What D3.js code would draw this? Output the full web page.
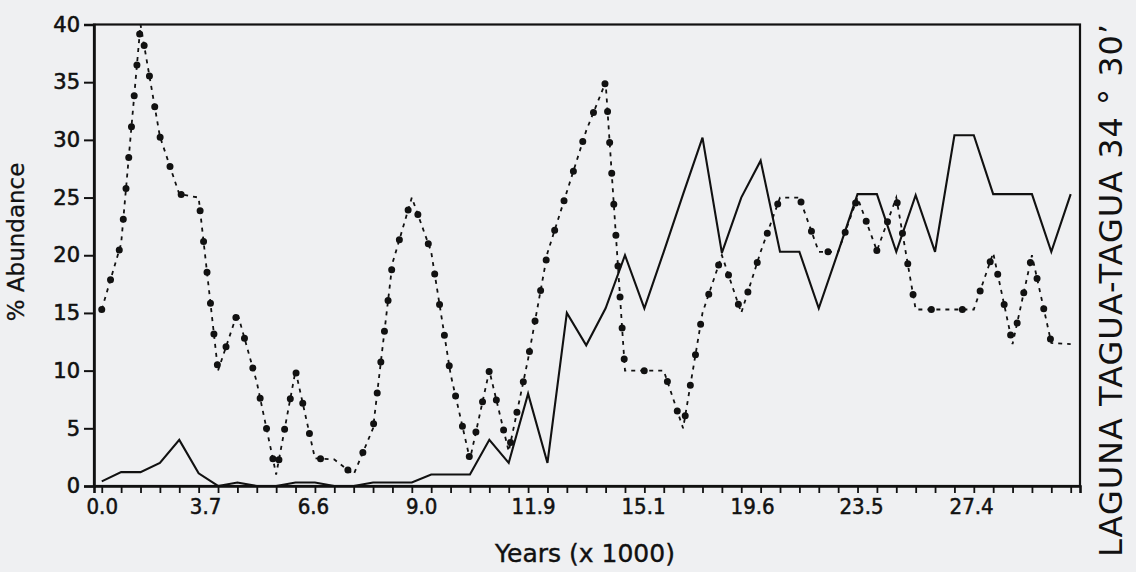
<!DOCTYPE html>
<html>
<head>
<meta charset="utf-8">
<script src="https://cdn.jsdelivr.net/npm/d3@7"></script>
<style>
  html, body { margin: 0; padding: 0; background: #eff0f2; }
  svg { display: block; }
  text { fill: #111; }
</style>
</head>
<body>
<svg id="chart" width="1136" height="572"></svg>
<script>
// ---- data (sample index 0..50) ----
const sampleIndex = d3.range(0, 51);
const solidSeries = [0.4,1.2,1.2,2,4,1.1,0,0.3,0,0,0.3,0.3,0,0,0.3,0.3,0.3,1,1,1,
  4,2,8,2,15,12.2,15.4,20,15.4,20.3,25.3,30.2,20.2,25,28.2,20.3,20.3,15.4,20.3,25.3,
  25.3,20.3,25.2,20.3,30.4,30.4,25.3,25.3,25.3,20.3,25.3];
const dottedSeries = [15.3,21,40,30.3,25.3,25,10,15,9,1,10,2.4,2.3,1,5,19.3,25,20.3,9.7,2.3,
  10,3,11,20.2,25.5,30.8,35,10,10,10,5,15,20,15,20.3,25,25,20.3,20.3,25,
  20.4,25,15.3,15.3,15.3,15.3,20.2,12.3,20,12.4,12.3];
const xLabelPos = [0, 5.33, 10.9, 16.48, 22.26, 27.93, 33.56, 39.18, 44.86];
const xLabels = ["0.0","3.7","6.6","9.0","11.9","15.1","19.6","23.5","27.4"];
const yTicks = [0,5,10,15,20,25,30,35,40];
const xTitle = "Years (x 1000)";
const yTitle = "% Abundance";
const sideTitle = "LAGUNA TAGUA-TAGUA  34 \u00B0 30\u2019";

// ---- layout ----
const svg = d3.select("#chart");
const x = d3.scaleLinear().domain([-0.4, 50.48]).range([94, 1080]);
const y = d3.scaleLinear().domain([0, 40]).range([486, 24.5]);
const ink = "#111";
const font = "'DejaVu Sans', 'Liberation Sans', sans-serif";

// frame
svg.append("rect")
  .attr("x", x.range()[0]).attr("y", y.range()[1])
  .attr("width", x.range()[1] - x.range()[0])
  .attr("height", y.range()[0] - y.range()[1])
  .attr("fill", "none").attr("stroke", ink).attr("stroke-width", 2.2);

// y axis
const yAxis = svg.append("g")
  .attr("transform", `translate(${x.range()[0]},0)`)
  .call(d3.axisLeft(y).tickValues(yTicks).tickSize(10).tickPadding(4).tickFormat(d3.format("d")));
yAxis.select(".domain").attr("stroke", ink).attr("stroke-width", 2.6);
yAxis.selectAll(".tick line").attr("stroke", ink).attr("stroke-width", 2);
yAxis.selectAll(".tick text").attr("fill", ink)
  .attr("stroke", ink).attr("stroke-width", 0.6)
  .style("font-family", font).style("font-size", "21px");

// x axis tick marks at every sample
const xAxis = svg.append("g")
  .attr("transform", `translate(0,${y.range()[0]})`)
  .call(d3.axisBottom(x).tickValues(sampleIndex).tickSize(7).tickFormat(""));
xAxis.select(".domain").attr("stroke", ink).attr("stroke-width", 2.6);
xAxis.selectAll(".tick line").attr("stroke", ink).attr("stroke-width", 1.8);

// x labels
const xLab = svg.append("g")
  .attr("transform", `translate(0,${y.range()[0]})`)
  .call(d3.axisBottom(x).tickValues(xLabelPos).tickSize(0).tickPadding(12)
    .tickFormat((d, i) => xLabels[i]));
xLab.select(".domain").remove();
xLab.selectAll(".tick text").attr("fill", ink)
  .attr("stroke", ink).attr("stroke-width", 0.5)
  .style("font-family", "'DejaVu Sans Condensed', 'DejaVu Sans', sans-serif")
  .style("font-size", "22px");

// lines
const line = d3.line().x((d, i) => x(sampleIndex[i])).y(d => y(d));

svg.append("path").datum(solidSeries)
  .attr("d", line).attr("fill", "none")
  .attr("stroke", ink).attr("stroke-width", 2.1).attr("stroke-linejoin", "miter");

svg.append("path").datum(dottedSeries)
  .attr("d", line).attr("fill", "none")
  .attr("stroke", ink).attr("stroke-width", 1.8)
  .attr("stroke-dasharray", "4,5");

svg.append("path").datum(dottedSeries)
  .attr("d", line).attr("fill", "none")
  .attr("stroke", ink).attr("stroke-width", 7)
  .attr("stroke-linecap", "round")
  .attr("stroke-dasharray", "0,31");

// titles
svg.append("text")
  .attr("x", 585).attr("y", 562)
  .attr("text-anchor", "middle")
  .attr("stroke", ink).attr("stroke-width", 0.4)
  .style("font-family", font).style("font-size", "25px")
  .text(xTitle);

svg.append("text")
  .attr("transform", "translate(24,242) rotate(-90)")
  .attr("text-anchor", "middle")
  .attr("stroke", ink).attr("stroke-width", 0.3)
  .style("font-family", font).style("font-size", "23px")
  .text(yTitle);

svg.append("text")
  .attr("transform", "translate(1122,557) rotate(-90)")
  .attr("text-anchor", "start")
  .style("font-family", font).style("font-size", "32px")
  .style("letter-spacing", "1px")
  .text(sideTitle);
</script>
</body>
</html>
